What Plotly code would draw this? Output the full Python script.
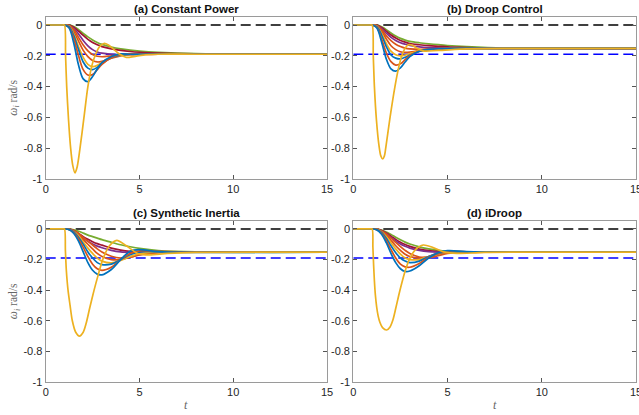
import plotly.graph_objects as go

# ---------------- data ----------------
t_grid = [0, 0.5, 0.9, 1.0, 1.25, 1.5, 1.75, 2.0, 2.25, 2.5, 2.75, 3.0, 3.5, 4.0, 4.5, 5.0, 6.0, 8.0, 15.0]

panel_titles = ["(a) Constant Power", "(b) Droop Control", "(c) Synthetic Inertia", "(d) iDroop"]
ref_zero = 0.0
ref_nadir = -0.19

a_blue1 = [0, 0, 0, 0, -0.02, -0.12, -0.26, -0.35, -0.368, -0.335, -0.285, -0.245, -0.205, -0.188, -0.19, -0.19, -0.19, -0.19, -0.19]
a_orange1 = [0, 0, 0, 0, -0.015, -0.09, -0.2, -0.29, -0.325, -0.322, -0.29, -0.255, -0.212, -0.193, -0.188, -0.19, -0.19, -0.19, -0.19]
a_blue2 = [0, 0, 0, 0, -0.01, -0.07, -0.16, -0.24, -0.28, -0.29, -0.275, -0.25, -0.213, -0.196, -0.19, -0.19, -0.19, -0.19, -0.19]
a_yellow2 = [0, 0, 0, 0, -0.008, -0.06, -0.14, -0.21, -0.255, -0.27, -0.262, -0.243, -0.212, -0.197, -0.191, -0.19, -0.19, -0.19, -0.19]
a_orange3 = [0, 0, 0, 0, -0.006, -0.045, -0.105, -0.165, -0.205, -0.23, -0.24, -0.236, -0.215, -0.2, -0.193, -0.19, -0.19, -0.19, -0.19]
a_orange2 = [0, 0, 0, 0, -0.004, -0.03, -0.08, -0.13, -0.168, -0.192, -0.203, -0.206, -0.2, -0.194, -0.191, -0.19, -0.19, -0.19, -0.19]
a_purple = [0, 0, 0, 0, -0.003, -0.022, -0.058, -0.1, -0.135, -0.16, -0.175, -0.183, -0.19, -0.192, -0.191, -0.19, -0.19, -0.19, -0.19]
a_darkred = [0, 0, 0, 0, -0.002, -0.015, -0.04, -0.068, -0.093, -0.113, -0.128, -0.14, -0.155, -0.165, -0.172, -0.177, -0.183, -0.188, -0.19]
a_green = [0, 0, 0, 0, -0.001, -0.01, -0.03, -0.055, -0.077, -0.097, -0.113, -0.126, -0.143, -0.155, -0.163, -0.169, -0.177, -0.186, -0.19]
a_big_t = [0, 0.5, 0.9, 1.0, 1.06, 1.12, 1.22, 1.33, 1.44, 1.56, 1.68, 1.83, 2.04, 2.25, 2.45, 2.63, 2.85, 3.1, 3.35, 3.6, 3.95, 4.3, 4.7, 5.2, 6.0, 8.0, 15]
a_big_v = [0, 0, 0, 0, -0.2, -0.4, -0.62, -0.8, -0.91, -0.96, -0.92, -0.8, -0.6, -0.4, -0.27, -0.2, -0.145, -0.12, -0.13, -0.155, -0.19, -0.21, -0.205, -0.195, -0.19, -0.19, -0.19]

b_blue1 = [0, 0, 0, 0, -0.02, -0.11, -0.22, -0.285, -0.3, -0.278, -0.24, -0.205, -0.17, -0.158, -0.154, -0.153, -0.152, -0.152, -0.152]
b_orange1 = [0, 0, 0, 0, -0.015, -0.09, -0.18, -0.238, -0.26, -0.252, -0.225, -0.198, -0.17, -0.158, -0.154, -0.153, -0.152, -0.152, -0.152]
b_blue2 = [0, 0, 0, 0, -0.01, -0.065, -0.14, -0.195, -0.215, -0.22, -0.21, -0.195, -0.172, -0.16, -0.155, -0.153, -0.152, -0.152, -0.152]
b_yellow2 = [0, 0, 0, 0, -0.008, -0.055, -0.12, -0.17, -0.193, -0.2, -0.196, -0.186, -0.168, -0.16, -0.155, -0.153, -0.152, -0.152, -0.152]
b_orange3 = [0, 0, 0, 0, -0.006, -0.04, -0.09, -0.135, -0.16, -0.174, -0.178, -0.176, -0.166, -0.158, -0.155, -0.153, -0.152, -0.152, -0.152]
b_orange2 = [0, 0, 0, 0, -0.004, -0.03, -0.07, -0.102, -0.125, -0.14, -0.15, -0.155, -0.158, -0.156, -0.154, -0.153, -0.152, -0.152, -0.152]
b_purple = [0, 0, 0, 0, -0.003, -0.022, -0.052, -0.08, -0.1, -0.115, -0.125, -0.133, -0.142, -0.147, -0.149, -0.15, -0.151, -0.152, -0.152]
b_darkred = [0, 0, 0, 0, -0.002, -0.016, -0.04, -0.065, -0.085, -0.1, -0.111, -0.12, -0.128, -0.134, -0.138, -0.142, -0.146, -0.151, -0.152]
b_green = [0, 0, 0, 0, -0.001, -0.012, -0.03, -0.052, -0.072, -0.087, -0.098, -0.106, -0.115, -0.122, -0.128, -0.133, -0.14, -0.149, -0.152]
b_big_t = [0, 0.5, 0.9, 1.0, 1.06, 1.12, 1.23, 1.36, 1.46, 1.56, 1.65, 1.72, 1.95, 2.21, 2.4, 2.57, 2.75, 2.92, 3.1, 3.3, 3.7, 4.5, 6.0, 8.0, 15]
b_big_v = [0, 0, 0, 0, -0.2, -0.4, -0.62, -0.78, -0.85, -0.87, -0.85, -0.8, -0.6, -0.4, -0.28, -0.2, -0.15, -0.128, -0.13, -0.145, -0.168, -0.165, -0.155, -0.152, -0.152]

c_blue1 = [0, 0, 0, 0, -0.005, -0.03, -0.08, -0.15, -0.22, -0.27, -0.295, -0.3, -0.265, -0.2, -0.145, -0.135, -0.148, -0.153, -0.152]
c_orange1 = [0, 0, 0, 0, -0.004, -0.025, -0.065, -0.12, -0.18, -0.23, -0.26, -0.27, -0.25, -0.2, -0.16, -0.143, -0.147, -0.152, -0.152]
c_blue2 = [0, 0, 0, 0, -0.003, -0.02, -0.055, -0.1, -0.15, -0.19, -0.22, -0.233, -0.23, -0.2, -0.168, -0.15, -0.148, -0.152, -0.152]
c_yellow2 = [0, 0, 0, 0, -0.003, -0.018, -0.045, -0.085, -0.125, -0.16, -0.19, -0.21, -0.222, -0.205, -0.18, -0.162, -0.15, -0.152, -0.152]
c_orange3 = [0, 0, 0, 0, -0.002, -0.014, -0.037, -0.07, -0.1, -0.13, -0.16, -0.18, -0.2, -0.2, -0.185, -0.168, -0.154, -0.152, -0.152]
c_orange2 = [0, 0, 0, 0, -0.002, -0.012, -0.03, -0.055, -0.08, -0.105, -0.13, -0.15, -0.178, -0.19, -0.185, -0.17, -0.155, -0.152, -0.152]
c_purple = [0, 0, 0, 0, -0.002, -0.013, -0.033, -0.058, -0.08, -0.098, -0.112, -0.123, -0.14, -0.15, -0.153, -0.153, -0.152, -0.152, -0.152]
c_darkred = [0, 0, 0, 0, -0.001, -0.011, -0.029, -0.05, -0.068, -0.083, -0.096, -0.106, -0.125, -0.138, -0.146, -0.15, -0.152, -0.152, -0.152]
c_green = [0, 0, 0, 0, -0.001, -0.006, -0.015, -0.027, -0.04, -0.05, -0.06, -0.07, -0.087, -0.103, -0.116, -0.127, -0.141, -0.15, -0.152]
c_big_t = [0, 0.5, 0.9, 1.0, 1.05, 1.1, 1.15, 1.2, 1.3, 1.42, 1.6, 1.8, 2.0, 2.15, 2.35, 2.58, 2.8, 3.04, 3.4, 3.79, 4.3, 4.9, 5.5, 6.5, 8.0, 15]
c_big_v = [0, 0, 0, 0, -0.14, -0.27, -0.35, -0.41, -0.5, -0.6, -0.675, -0.7, -0.675, -0.62, -0.515, -0.4, -0.3, -0.2, -0.11, -0.075, -0.11, -0.16, -0.17, -0.16, -0.153, -0.152]

d_blue1 = [0, 0, 0, 0, -0.006, -0.035, -0.09, -0.16, -0.22, -0.26, -0.278, -0.275, -0.24, -0.19, -0.155, -0.142, -0.148, -0.152, -0.152]
d_orange1 = [0, 0, 0, 0, -0.005, -0.028, -0.075, -0.135, -0.19, -0.23, -0.248, -0.25, -0.225, -0.185, -0.158, -0.146, -0.149, -0.152, -0.152]
d_blue2 = [0, 0, 0, 0, -0.004, -0.022, -0.06, -0.11, -0.155, -0.19, -0.21, -0.22, -0.21, -0.18, -0.16, -0.15, -0.15, -0.152, -0.152]
d_yellow2 = [0, 0, 0, 0, -0.003, -0.02, -0.05, -0.09, -0.13, -0.165, -0.19, -0.2, -0.2, -0.18, -0.162, -0.152, -0.151, -0.152, -0.152]
d_orange3 = [0, 0, 0, 0, -0.003, -0.016, -0.04, -0.075, -0.11, -0.14, -0.165, -0.18, -0.19, -0.18, -0.165, -0.155, -0.152, -0.152, -0.152]
d_orange2 = [0, 0, 0, 0, -0.002, -0.013, -0.033, -0.06, -0.088, -0.115, -0.14, -0.16, -0.183, -0.188, -0.175, -0.16, -0.153, -0.152, -0.152]
d_purple = [0, 0, 0, 0, -0.002, -0.012, -0.03, -0.055, -0.078, -0.098, -0.113, -0.125, -0.14, -0.148, -0.151, -0.152, -0.152, -0.152, -0.152]
d_darkred = [0, 0, 0, 0, -0.001, -0.01, -0.026, -0.047, -0.068, -0.087, -0.102, -0.114, -0.132, -0.142, -0.148, -0.151, -0.152, -0.152, -0.152]
d_green = [0, 0, 0, 0, -0.001, -0.007, -0.02, -0.036, -0.054, -0.071, -0.086, -0.098, -0.117, -0.13, -0.14, -0.146, -0.151, -0.152, -0.152]
d_big_t = [0, 0.5, 0.9, 1.0, 1.04, 1.08, 1.12, 1.17, 1.24, 1.32, 1.41, 1.55, 1.77, 1.95, 2.1, 2.25, 2.4, 2.55, 2.75, 2.97, 3.3, 3.71, 4.2, 4.8, 5.5, 7.0, 15]
d_big_v = [0, 0, 0, 0, -0.12, -0.24, -0.34, -0.43, -0.51, -0.57, -0.61, -0.645, -0.66, -0.64, -0.595, -0.52, -0.44, -0.365, -0.275, -0.2, -0.135, -0.105, -0.12, -0.15, -0.16, -0.153, -0.152]

x_ticks = [0, 5, 10, 15]
x_ticktext = ["0", "5", "10", "15"]
y_ticks = [0, -0.2, -0.4, -0.6, -0.8, -1]
y_ticktext = ["0", "-0.2", "-0.4", "-0.6", "-0.8", "-1"]

# ---------------- style ----------------
colors = {
    "blue1": "#0072BD", "blue2": "#0072BD",
    "orange1": "#D95319", "orange2": "#D95319", "orange3": "#D95319",
    "yellow2": "#EDB120", "purple": "#7E2F8E", "darkred": "#A2142F",
    "green": "#77AC30", "big": "#EDB120",
}
draw_order = ["green", "darkred", "purple", "orange2", "orange3", "yellow2", "blue2", "orange1", "blue1"]

panels = [
    dict(a=dict(blue1=a_blue1, orange1=a_orange1, blue2=a_blue2, yellow2=a_yellow2, orange3=a_orange3,
                orange2=a_orange2, purple=a_purple, darkred=a_darkred, green=a_green), bt=a_big_t, bv=a_big_v),
    dict(a=dict(blue1=b_blue1, orange1=b_orange1, blue2=b_blue2, yellow2=b_yellow2, orange3=b_orange3,
                orange2=b_orange2, purple=b_purple, darkred=b_darkred, green=b_green), bt=b_big_t, bv=b_big_v),
    dict(a=dict(blue1=c_blue1, orange1=c_orange1, blue2=c_blue2, yellow2=c_yellow2, orange3=c_orange3,
                orange2=c_orange2, purple=c_purple, darkred=c_darkred, green=c_green), bt=c_big_t, bv=c_big_v),
    dict(a=dict(blue1=d_blue1, orange1=d_orange1, blue2=d_blue2, yellow2=d_yellow2, orange3=d_orange3,
                orange2=d_orange2, purple=d_purple, darkred=d_darkred, green=d_green), bt=d_big_t, bv=d_big_v),
]

W, H = 639, 415
x_doms = [[45.7 / W, 327 / W], [353.3 / W, 636 / W]]
y_doms = [[1 - 179 / H, 1 - 17 / H], [1 - 382 / H, 1 - 221 / H]]

fig = go.Figure()
lw = 1.7
for i, p in enumerate(panels):
    ax = "" if i == 0 else str(i + 1)
    xr, yr = "x" + ax, "y" + ax
    fig.add_trace(go.Scatter(x=[0, 15], y=[ref_zero, ref_zero], mode="lines", xaxis=xr, yaxis=yr,
                             line=dict(color="black", width=1.6, dash="10px,5px"), showlegend=False))
    fig.add_trace(go.Scatter(x=[0, 15], y=[ref_nadir, ref_nadir], mode="lines", xaxis=xr, yaxis=yr,
                             line=dict(color="#0000FF", width=1.6, dash="10px,5px"), showlegend=False))
    for name in draw_order:
        fig.add_trace(go.Scatter(x=t_grid, y=p["a"][name], mode="lines", xaxis=xr, yaxis=yr,
                                 line=dict(color=colors[name], width=lw, shape="spline", smoothing=0.9),
                                 showlegend=False))
    fig.add_trace(go.Scatter(x=p["bt"], y=p["bv"], mode="lines", xaxis=xr, yaxis=yr,
                             line=dict(color=colors["big"], width=lw, shape="spline", smoothing=0.8),
                             showlegend=False))

axis_common = dict(showline=True, mirror="ticks", linecolor="#9a9a9a", linewidth=1.2,
                   ticks="inside", ticklen=4, tickcolor="#555", showgrid=False, zeroline=False,
                   tickfont=dict(family="Liberation Sans, Arial", size=11, color="#262626"),
                   automargin=False, ticklabeloverflow="allow")
layout = dict(width=W, height=H, margin=dict(l=0, r=0, t=0, b=0),
              paper_bgcolor="white", plot_bgcolor="white")
for i in range(4):
    ax = "" if i == 0 else str(i + 1)
    col, row = i % 2, i // 2
    layout["xaxis" + ax] = dict(axis_common, domain=x_doms[col], range=[0, 15], tickvals=x_ticks,
                                ticktext=x_ticktext, anchor="y" + ax)
    layout["yaxis" + ax] = dict(axis_common, domain=y_doms[row], range=[-1, 0.052], tickvals=y_ticks,
                                ticktext=y_ticktext, anchor="x" + ax)
fig.update_layout(**layout)

ann = []
title_y = [1 - 9 / H, 1 - 213 / H]
for i, ttl in enumerate(panel_titles):
    col, row = i % 2, i // 2
    ann.append(dict(text="<b>" + ttl + "</b>", x=sum(x_doms[col]) / 2, y=title_y[row], xref="paper", yref="paper",
                    showarrow=False, font=dict(family="Liberation Sans, Arial", size=11.5, color="#111"),
                    xanchor="center", yanchor="middle"))
    if col == 0:
        ann.append(dict(text="<i>ω</i><sub><i>i</i></sub> rad/s", x=(x_doms[col][0] * W - 32) / W,
                        y=sum(y_doms[row]) / 2, xref="paper", yref="paper", textangle=-90, showarrow=False,
                        font=dict(family="Liberation Serif, DejaVu Serif", size=11.5, color="#666"),
                        xanchor="center", yanchor="middle"))
    if row == 1:
        ann.append(dict(text="<i>t</i>", x=sum(x_doms[col]) / 2, y=1 - 405 / H, xref="paper", yref="paper",
                        showarrow=False, font=dict(family="Liberation Serif, DejaVu Serif", size=12, color="#666"),
                        xanchor="center", yanchor="middle"))
fig.update_layout(annotations=ann)

fig.write_html("out.html", config={"displayModeBar": False},
               post_script="document.body.style.margin='0';document.body.style.overflow='hidden';")
